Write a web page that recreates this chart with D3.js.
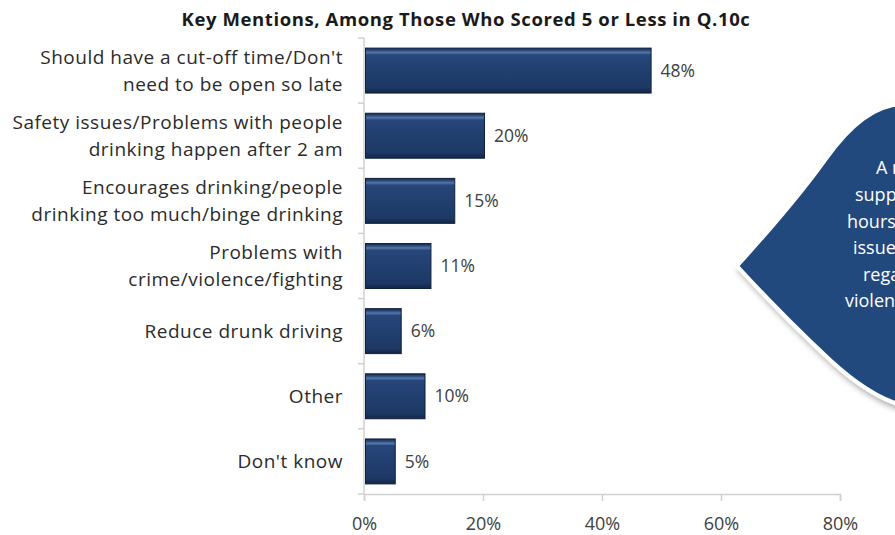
<!DOCTYPE html>
<html>
<head>
<meta charset="utf-8">
<script src="https://cdn.jsdelivr.net/npm/d3@7/dist/d3.min.js"></script>
<style>
  html, body { margin: 0; padding: 0; background: #ffffff; }
  svg { display: block; }
  text { font-family: "Open Sans", Lato, sans-serif; }
</style>
</head>
<body>
<svg id="chart" width="895" height="535"></svg>
<script>
// ---- data ----
const title = "Key Mentions, Among Those Who Scored 5 or Less in Q.10c";
const categories = [
  "Should have a cut-off time/Don't|need to be open so late",
  "Safety issues/Problems with people|drinking happen after 2 am",
  "Encourages drinking/people|drinking too much/binge drinking",
  "Problems with|crime/violence/fighting",
  "Reduce drunk driving",
  "Other",
  "Don't know"
];
const values = [0.48, 0.20, 0.15, 0.11, 0.06, 0.10, 0.05];
const xTicks = [0, 0.2, 0.4, 0.6, 0.8];
const calloutLines = ["A majority", "support earlier", "hours due to", "issues", "regarding", "violence"];

// ---- layout ----
const W = 895, H = 535;
const svg = d3.select("#chart");
const plot = { left: 364, right: 840, top: 38, bottom: 494 };

const x = d3.scaleLinear().domain([0, 0.8]).range([plot.left, plot.right]);
const y = d3.scaleBand().domain(categories).range([plot.top, plot.bottom])
  .paddingInner(0.31).paddingOuter(0.155);

// gradient for bars
const defs = svg.append("defs");
const g = defs.append("linearGradient").attr("id", "barGrad")
  .attr("x1", 0).attr("y1", 0).attr("x2", 0).attr("y2", 1);
[["0%", "#152a4e"], ["5%", "#2a4a7c"], ["10%", "#5676a8"], ["15%", "#27467a"],
 ["50%", "#213f6f"], ["88%", "#1d3864"], ["100%", "#132647"]]
  .forEach(([o, c]) => g.append("stop").attr("offset", o).attr("stop-color", c));

const shadow = defs.append("filter").attr("id", "shadow")
  .attr("x", "-20%").attr("y", "-20%").attr("width", "150%").attr("height", "150%");
shadow.append("feDropShadow").attr("dx", 3).attr("dy", 4).attr("stdDeviation", 3)
  .attr("flood-color", "#000").attr("flood-opacity", 0.35);

// title
svg.append("text")
  .attr("x", 466).attr("y", 26)
  .attr("text-anchor", "middle")
  .attr("font-size", 18.5).attr("font-weight", "bold").attr("fill", "#1a1a1a")
  .attr("letter-spacing", 0.6)
  .text(title);

// x axis
const xAxis = svg.append("g")
  .attr("transform", `translate(0,${plot.bottom})`)
  .call(d3.axisBottom(x).tickValues(xTicks).tickFormat(d3.format(".0%")).tickSize(7).tickPadding(16));
xAxis.select(".domain").attr("stroke", "#d0d0d0").attr("stroke-width", 1.5);
xAxis.selectAll(".tick line").attr("stroke", "#d0d0d0").attr("stroke-width", 1.5);
xAxis.selectAll(".tick text").attr("font-size", 18).attr("fill", "#404040")
  .attr("font-family", "'Open Sans', Lato, sans-serif");

// y axis line with ticks at band boundaries
const yAx = svg.append("g");
yAx.append("line").attr("x1", plot.left).attr("x2", plot.left)
  .attr("y1", plot.top).attr("y2", plot.bottom)
  .attr("stroke", "#d0d0d0").attr("stroke-width", 1.5);
const step = y.step();
const bounds = categories.map(c => y(c) - step * y.paddingInner() / 2).concat([plot.bottom]);
yAx.selectAll("line.t").data(bounds).join("line").attr("class", "t")
  .attr("x1", plot.left - 6).attr("x2", plot.left)
  .attr("y1", d => d).attr("y2", d => d)
  .attr("stroke", "#d0d0d0").attr("stroke-width", 1.5);

// category labels
const lab = svg.append("g");
categories.forEach(c => {
  const lines = c.split("|");
  const cy = y(c) + y.bandwidth() / 2;
  const lh = 27;
  const t = lab.append("text")
    .attr("text-anchor", "end").attr("font-size", 19).attr("letter-spacing", 0.5)
    .attr("fill", "#2b2b2b");
  lines.forEach((ln, i) => {
    t.append("tspan").attr("x", 343)
      .attr("y", cy + (i - (lines.length - 1) / 2) * lh)
      .attr("dy", "0.35em").text(ln);
  });
});

// bars
svg.append("g").selectAll("rect").data(categories).join("rect")
  .attr("x", x(0) + 1.5)
  .attr("y", d => y(d))
  .attr("width", (d, i) => x(values[i]) - x(0))
  .attr("height", y.bandwidth())
  .attr("fill", "url(#barGrad)")
  .attr("stroke", "#0f1f3c").attr("stroke-width", 1);

// value labels
svg.append("g").selectAll("text").data(categories).join("text")
  .attr("x", (d, i) => x(values[i]) + 11)
  .attr("y", d => y(d) + y.bandwidth() / 2)
  .attr("dy", "0.35em")
  .attr("font-size", 17.5).attr("fill", "#404040")
  .text((d, i) => d3.format(".0%")(values[i]));

// callout shape (clipped by the page edge, as in the reference)
const callout = svg.append("g");
callout.append("path")
  .attr("d", "M 905,104 C 875,104 850,125 825,160 C 800,195 765,235 737,266 C 770,302 800,332 830,360 C 855,383 880,400 905,406 Z")
  .attr("fill", "#224a7e").attr("stroke", "#ffffff").attr("stroke-width", 4)
  .attr("filter", "url(#shadow)");
const cStarts = [876, 855, 847, 853, 863, 845];
callout.selectAll("text").data(calloutLines).join("text")
  .attr("x", (d, i) => cStarts[i])
  .attr("y", (d, i) => 168 + i * 26.6)
  .attr("dy", "0.35em")
  .attr("font-size", 18).attr("fill", "#ffffff")
  .text(d => d);
</script>
</body>
</html>
